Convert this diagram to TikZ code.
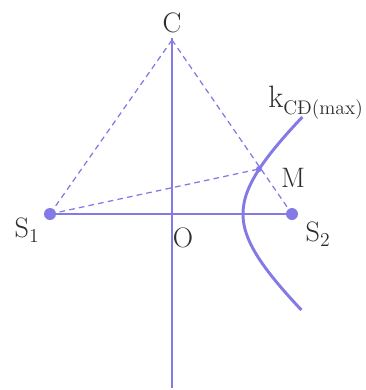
\documentclass[tikz,border=0pt]{standalone}
\usepackage{fontspec}
\definecolor{wavecol}{RGB}{132,122,230}
\definecolor{labelcol}{RGB}{45,45,45}
\tikzset{
  axisline/.style={wavecol, line width=2.1pt},
  helpline/.style={wavecol, line width=0.9pt, dashed, dash pattern=on 4pt off 3pt},
  lbl/.style={labelcol, font=\fontsize{20}{24}\selectfont, inner sep=0pt}
}
\begin{document}
\begin{tikzpicture}[x=0.025cm, y=-0.025cm]
  \useasboundingbox (0,0) rectangle (366,390);

  % --- Punkte ---
  \coordinate (C)  at (172,40);
  \coordinate (O)  at (172,214);
  \coordinate (S1) at (50,214);
  \coordinate (S2) at (292,214);
  \coordinate (M)  at (259,169);
  \coordinate (top) at (172,38);
  \coordinate (bot) at (172,388);

  % --- Gestrichelte Hilfslinien ---
  \draw[helpline] (C) -- (S1);
  \draw[helpline] (C) -- (S2);
  \draw[helpline] (S1) -- (M);

  % --- Achsen ---
  \draw[axisline] (top) -- (bot);
  \draw[axisline] (S1) -- (S2);

  % --- Hyperbelast k ---
  \draw[axisline] plot[domain=-96:97, samples=60, variable=\t]
      ({172+71*sqrt(1+(\t/63)^2)}, {214-\t});

  % --- Quellen und M ---
  \fill[wavecol] (S1) circle (6);
  \fill[wavecol] (S2) circle (6);
  \fill[wavecol] (M) circle (3);

  % --- Beschriftungen ---
  \node[lbl] (lC)  at (172,23)  {C};
  \node[lbl] (lS1) at (27,230)  {S\textsubscript{1}};
  \node[lbl] (lO)  at (183,238) {O};
  \node[lbl] (lS2) at (318,234) {S\textsubscript{2}};
  \node[lbl] (lM)  at (293,178) {M};
  \node[lbl, anchor=base west] (lk) at (268,107)
      {\fontsize{22}{26}\selectfont k\raisebox{-0.25em}{\fontsize{14}{16}\selectfont CĐ(max)}};

\end{tikzpicture}
\end{document}
